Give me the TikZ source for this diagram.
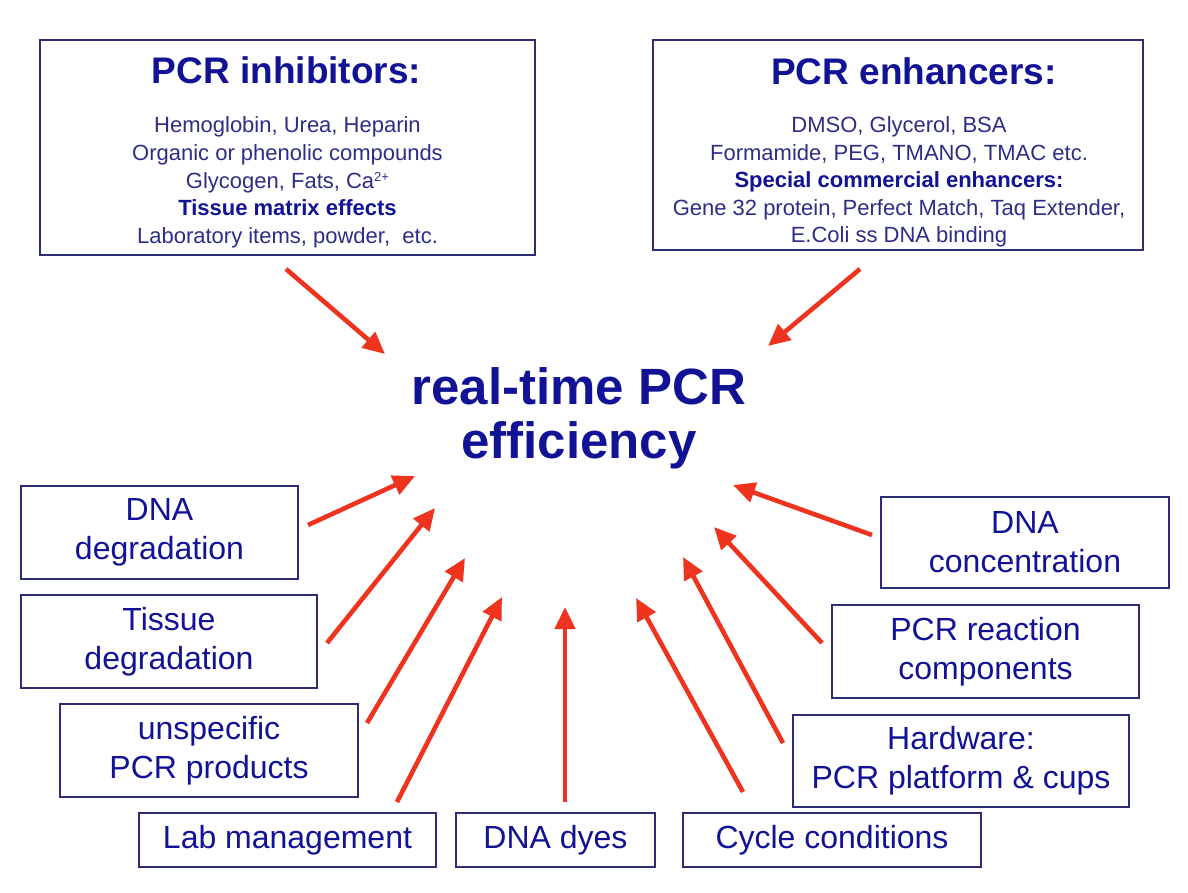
\documentclass[tikz,border=0pt]{standalone}
\usepackage{fontspec}
\setmainfont{Liberation Sans}
\usetikzlibrary{arrows.meta}
\definecolor{ttl}{RGB}{18,18,150}
\definecolor{bdy}{RGB}{45,45,135}
\definecolor{frm}{RGB}{45,45,115}
\definecolor{arrred}{RGB}{238,52,30}
\newcommand{\smallsup}[1]{\raisebox{7pt}{\fontsize{13}{13}\selectfont #1}}
\begin{document}
\begin{tikzpicture}[x=1pt,y=-1pt,
  boxA/.style={draw=frm, line width=1.6pt, inner sep=0pt, fill=white},
  ttlfont/.style={text=ttl, font=\fontsize{37}{44}\selectfont\bfseries, inner sep=0pt},
  bodyfont/.style={text=bdy, font=\fontsize{22}{27.6}\selectfont, inner sep=0pt, align=center},
  lowbox/.style={boxA, text=ttl, font=\fontsize{32}{39}\selectfont, align=center},
  maintxt/.style={text=ttl, font=\fontsize{51}{54}\selectfont\bfseries, inner sep=0pt, align=center},
  redarrow/.style={draw=arrred, line width=4.6pt, -{Triangle[length=22pt,width=20pt]}}]
\fill[white] (0,0) rectangle (1188,892);
\useasboundingbox (0,0) rectangle (1188,892);

% top boxes
\node[boxA, minimum width=495pt, minimum height=215pt] (inhib) at (287.5,147.5) {};
\node[ttlfont, anchor=base] (inhibT) at (286.5,83) {PCR inhibitors:};
\node[bodyfont] (inhibB) at (287.5,182.5) {Hemoglobin, Urea, Heparin\\Organic or phenolic compounds\\Glycogen, Fats, Ca\smallsup{2+}\\{\color{ttl}\bfseries Tissue matrix effects}\\Laboratory items, powder,\ \ etc.};

\node[boxA, minimum width=490pt, minimum height=210pt] (enh) at (898,145) {};
\node[ttlfont, anchor=base] (enhT) at (914,84) {PCR enhancers:};
\node[bodyfont] (enhB) at (899,182) {DMSO, Glycerol, BSA\\Formamide, PEG, TMANO, TMAC etc.\\{\color{ttl}\bfseries Special commercial enhancers:}\\Gene 32 protein, Perfect Match, Taq Extender,\\E.Coli ss DNA binding};

% centre
\node[maintxt] (eff) at (579,418) {real-time PCR\\efficiency};

% lower boxes
\node[lowbox, minimum width=277pt, minimum height=93pt] (dnadeg) at (159.5,532.5) {DNA\\degradation};
\node[lowbox, minimum width=296pt, minimum height=93pt] (tisdeg) at (169,641.5) {Tissue\\degradation};
\node[lowbox, minimum width=298pt, minimum height=93pt] (unspec) at (209,750.5) {unspecific\\PCR products};
\node[lowbox, minimum width=297pt, minimum height=54pt] (labman) at (287.5,840) {Lab management};
\node[lowbox, minimum width=199pt, minimum height=54pt] (dyes) at (555.5,840) {DNA dyes};
\node[lowbox, minimum width=298pt, minimum height=54pt] (cycle) at (832,840) {Cycle conditions};
\node[lowbox, minimum width=288pt, minimum height=91pt] (dnacon) at (1025,542.5) {DNA\\concentration};
\node[lowbox, minimum width=307pt, minimum height=93pt] (pcrcomp) at (985.5,651.5) {PCR reaction\\components};
\node[lowbox, minimum width=336pt, minimum height=92pt] (hard) at (961,761) {Hardware:\\PCR platform \& cups};

% arrow end points
\coordinate (s1) at (286,269);  \coordinate (e1) at (385,354);
\coordinate (s2) at (860,269);  \coordinate (e2) at (768,346);
\coordinate (s3) at (308,525);  \coordinate (e3) at (415,476);
\coordinate (s4) at (327,643);  \coordinate (e4) at (435,508);
\coordinate (s5) at (367,723);  \coordinate (e5) at (465,558);
\coordinate (s6) at (397,802);  \coordinate (e6) at (502,597);
\coordinate (s7) at (565,802);  \coordinate (e7) at (565,607);
\coordinate (s8) at (743,792);  \coordinate (e8) at (636,598);
\coordinate (s9) at (783,743);  \coordinate (e9) at (683,557);
\coordinate (s10) at (822,643); \coordinate (e10) at (714,527);
\coordinate (s11) at (872,535); \coordinate (e11) at (733,485);

\foreach \i in {1,...,11} {\draw[redarrow] (s\i) -- (e\i);}
\end{tikzpicture}
\end{document}
